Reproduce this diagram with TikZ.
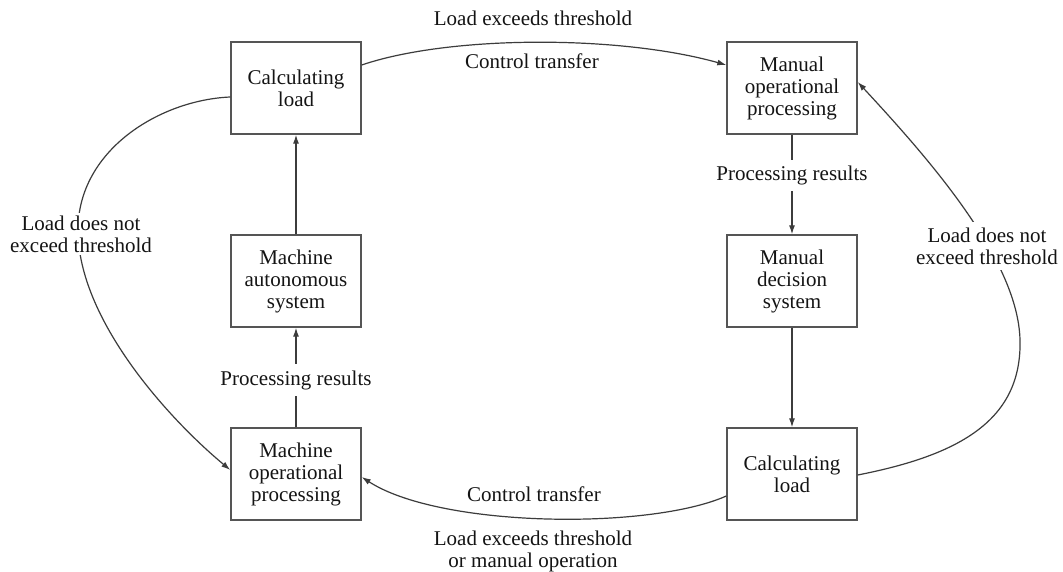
\documentclass[tikz,border=0pt]{standalone}
\usepackage{fontspec}
\setmainfont{Liberation Serif}
\usetikzlibrary{arrows.meta}
\newcommand{\diagfont}{\fontsize{21}{22}\selectfont}
\definecolor{boxgray}{RGB}{85,85,85}
\definecolor{linegray}{RGB}{60,60,60}
\definecolor{txt}{RGB}{20,20,20}
\begin{document}
\begin{tikzpicture}[x=1pt,y=-1pt,
  box/.style={draw=boxgray,line width=1.4pt,minimum width=130pt,minimum height=92pt,align=center,inner sep=2pt,text=txt,font=\diagfont},
  conn/.style={draw=linegray,line width=1.2pt,-{Latex[length=9pt,width=6pt]}},
  lbl/.style={align=center,text=txt,font=\diagfont,inner sep=1pt},
  gaplbl/.style={lbl,fill=white,inner xsep=2pt,inner ysep=6pt}
  ]
\useasboundingbox[fill=white] (0,0) rectangle (1063,572);
% boxes
\node[box] (cl)   at (296,88)  {Calculating\\load};
\node[box] (mas)  at (296,281) {Machine\\autonomous\\system};
\node[box] (mproc) at (296,474) {Machine\\operational\\processing};
\node[box] (mop)  at (792,88)  {Manual\\operational\\processing};
\node[box] (mds)  at (792,281) {Manual\\decision\\system};
\node[box] (rcl)  at (792,474) {Calculating\\load};
% vertical connectors
\draw[conn] (mas.north) -- (cl.south);
\draw[conn] (mproc.north) -- node[gaplbl,pos=0.475] (lprl) {Processing results} (mas.south);
\draw[conn] (mop.south) -- node[gaplbl,pos=0.41] (rprl) {Processing results} (mds.north);
\draw[conn] (mds.south) -- (rcl.north);
% top curve
\draw[conn] ([yshift=23pt]cl.east) .. controls (450,35) and (620,35) .. ([yshift=23pt]mop.west);
\node[lbl] (tl1) at (533,18) {Load exceeds threshold};
\node[lbl] (tl2) at (532,61) {Control transfer};
% bottom curve
\draw[conn] ([yshift=-22pt]rcl.west) .. controls (650,530) and (440,528) .. ([yshift=-3pt]mproc.east);
\node[lbl] (bl1) at (534,494) {Control transfer};
\node[lbl] (bl2) at (533,551) {Load exceeds threshold\\or manual operation};
% left curve
\draw[conn] ([yshift=-9pt]cl.west) .. controls (160,100) and (78,150) .. (78,230)
  .. controls (78,320) and (170,420) .. ([yshift=4pt]mproc.west);
\node[gaplbl,inner ysep=3pt] (ll) at (81,234) {Load does not\\exceed threshold};
% right curve
\draw[conn] ([yshift=-1pt]rcl.east) .. controls (960,455) and (1022,420) .. (1020,340)
  .. controls (1018,260) and (930,160) .. ([yshift=6pt]mop.east);
\node[gaplbl] (rl) at (987,246) {Load does not\\exceed threshold};
\end{tikzpicture}
\end{document}
